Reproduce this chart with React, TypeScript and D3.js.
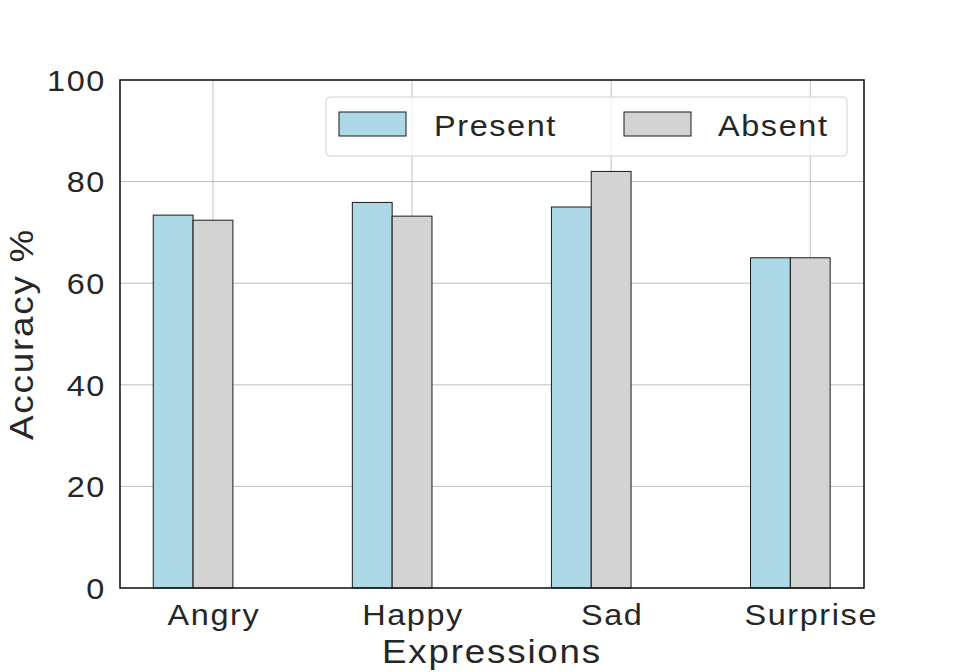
import React from 'react'
import * as d3 from 'd3'

const categories = ['Angry', 'Happy', 'Sad', 'Surprise']
const presentValues = [73.4, 75.9, 75.0, 65.0]
const absentValues = [72.4, 73.2, 82.0, 65.0]
const yTicks = [0, 20, 40, 60, 80, 100]
const seriesNames = ['Present', 'Absent']
const seriesColors = ['#add8e6', '#d3d3d3']

const W = 960, H = 672
const left = 120, right = 864, top = 80, bottom = 588
const font = '"Liberation Sans", Arial, sans-serif'
const SX = 1.08 // the reference text is drawn a bit wide and loosely spaced

// text stretched horizontally around its anchor point
const Label = ({ x, y, size, anchor = 'start', rotate = 0, dy, children }: any) => (
  <text transform={`translate(${x},${y}) rotate(${rotate}) scale(${SX},1)`} textAnchor={anchor}
    dy={dy} fontFamily={font} fontSize={size} letterSpacing={size * 0.05} fill="#262626">{children}</text>
)

export default function App() {
  // category index units, matplotlib-ish xlim
  const x = d3.scaleLinear().domain([-0.467, 3.27]).range([left, right])
  const y = d3.scaleLinear().domain([0, 100]).range([bottom, top])
  const bw = x(0.2) - x(0)
  const series = [presentValues, absentValues]
  const offsets = [-0.3, -0.1]

  return (
    <svg width={W} height={H} style={{ display: 'block', position: 'absolute', left: 0, top: 0 }}>
      <rect width={W} height={H} fill="#fff" />
      {/* grid */}
      {yTicks.slice(1, -1).map(t => (
        <line key={'gy' + t} x1={left} x2={right} y1={y(t)} y2={y(t)} stroke="#b0b0b0" strokeWidth={0.8} />
      ))}
      {categories.map((c, i) => (
        <line key={'gx' + c} x1={x(i)} x2={x(i)} y1={top} y2={bottom} stroke="#b0b0b0" strokeWidth={0.8} />
      ))}
      {/* bars */}
      {series.map((vals, s) =>
        vals.map((v, i) => (
          <rect key={s + '-' + i} x={x(i + offsets[s])} y={y(v)} width={bw} height={y(0) - y(v)}
            fill={seriesColors[s]} stroke="#1a1a1a" strokeWidth={1} />
        ))
      )}
      {/* frame */}
      <rect x={left} y={top} width={right - left} height={bottom - top} fill="none" stroke="#1a1a1a" strokeWidth={1.6} />
      {/* y tick labels */}
      {yTicks.map(t => (
        <Label key={'yt' + t} x={106} y={y(t)} dy="0.36em" size={30} anchor="end">{t}</Label>
      ))}
      {/* x tick labels */}
      {categories.map((c, i) => (
        <Label key={'xt' + c} x={x(i) + 1} y={625} size={30} anchor="middle">{c}</Label>
      ))}
      <Label x={(left + right) / 2} y={663} size={34} anchor="middle">Expressions</Label>
      <Label x={33} y={(top + bottom) / 2} size={34} anchor="middle" rotate={-90}>Accuracy %</Label>
      {/* legend */}
      <rect x={326} y={97} width={521} height={59} rx={4} fill="#fff" fillOpacity={0.8} stroke="#d0d0d0" strokeWidth={1} />
      {seriesNames.map((n, s) => (
        <g key={n}>
          <rect x={339 + s * 285} y={112} width={67} height={24} fill={seriesColors[s]} stroke="#1a1a1a" strokeWidth={1} />
          <Label x={434 + s * 284} y={136} size={30}>{n}</Label>
        </g>
      ))}
    </svg>
  )
}
